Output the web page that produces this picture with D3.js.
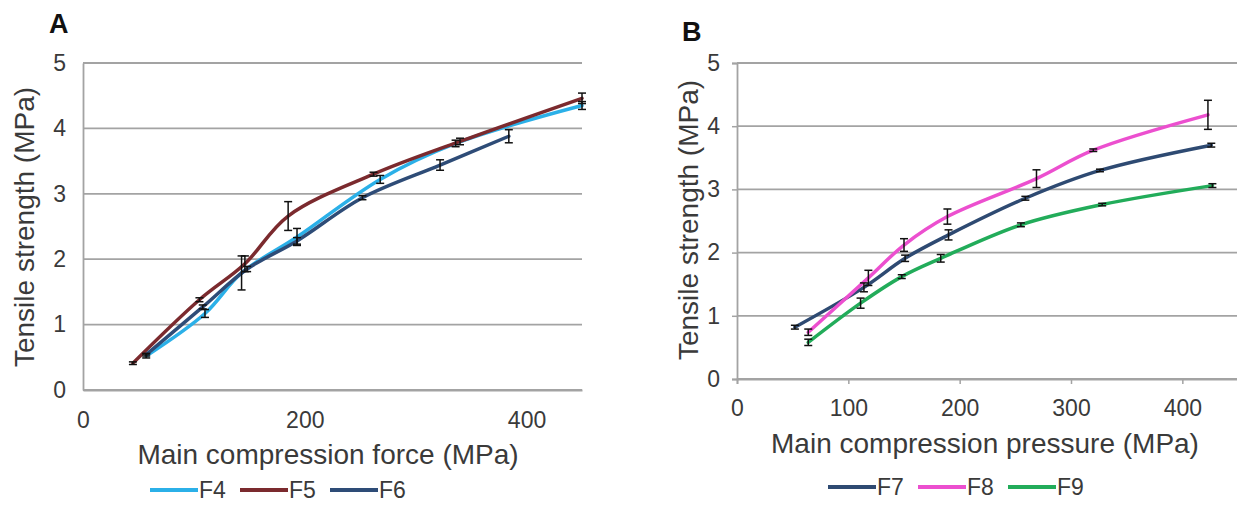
<!DOCTYPE html>
<html>
<head>
<meta charset="utf-8">
<script src="https://cdn.jsdelivr.net/npm/d3@7"></script>
<style>
  html, body { margin: 0; padding: 0; background: #fff; }
  svg { display: block; font-family: "Liberation Sans", Arial, sans-serif; }
</style>
</head>
<body>
<svg id="chart" width="1237" height="522"></svg>
<script>
// ---------- Data ----------
const yTicks = [0, 1, 2, 3, 4, 5];
const xTicksA = [0, 200, 400];
const xTicksB = [0, 100, 200, 300, 400];

// Panel A
const f4X   = [57, 110, 143, 193, 268, 336, 450];
const f4Y   = [0.52, 1.17, 1.79, 2.34, 3.22, 3.77, 4.35];
const f4Err = [0.03, 0.06, 0.26, 0.13, 0.06, 0.05, 0.06];

const f5X   = [45, 105, 146, 185, 262, 340, 450];
const f5Y   = [0.41, 1.38, 1.93, 2.66, 3.3, 3.8, 4.46];
const f5Err = [0.02, 0.03, 0.12, 0.22, 0.03, 0.05, 0.08];

const f6X   = [57, 108, 148, 193, 252, 322, 384];
const f6Y   = [0.54, 1.27, 1.85, 2.28, 2.94, 3.44, 3.88];
const f6Err = [0.02, 0.03, 0.04, 0.05, 0.03, 0.08, 0.1];

// Panel B
const f7X   = [52, 114, 151, 190, 259, 326, 426];
const f7Y   = [0.82, 1.45, 1.91, 2.28, 2.86, 3.3, 3.7];
const f7Err = [0.03, 0.07, 0.05, 0.08, 0.03, 0.02, 0.03];

const f8X   = [64, 118, 150, 189, 269, 320, 423];
const f8Y   = [0.74, 1.6, 2.12, 2.57, 3.17, 3.62, 4.18];
const f8Err = [0.05, 0.12, 0.1, 0.12, 0.14, 0.02, 0.23];

const f9X   = [64, 111, 148, 183, 255, 328, 427];
const f9Y   = [0.58, 1.2, 1.62, 1.91, 2.44, 2.76, 3.06];
const f9Err = [0.05, 0.08, 0.03, 0.06, 0.03, 0.02, 0.03];

const seriesA = [
  { name: "F4", x: f4X, y: f4Y, err: f4Err, color: "#2bb0e8" },
  { name: "F5", x: f5X, y: f5Y, err: f5Err, color: "#7b2a2e" },
  { name: "F6", x: f6X, y: f6Y, err: f6Err, color: "#2e4c77" }
];
const seriesB = [
  { name: "F7", x: f7X, y: f7Y, err: f7Err, color: "#2e4a72" },
  { name: "F8", x: f8X, y: f8Y, err: f8Err, color: "#ec4fcf" },
  { name: "F9", x: f9X, y: f9Y, err: f9Err, color: "#22ac5a" }
];

const svg = d3.select("#chart");
const textColor = "#3a3a3a";
const gridColor = "#a3a3a3";

function panel(cfg) {
  const g = svg.append("g");
  const x = d3.scaleLinear().domain([0, 450]).range([cfg.x0, cfg.x1]);
  const y = d3.scaleLinear().domain([0, 5]).range([cfg.y0, cfg.y1]);

  // gridlines
  g.append("g").selectAll("line").data(yTicks).join("line")
    .attr("x1", cfg.x0).attr("x2", cfg.x1)
    .attr("y1", d => y(d)).attr("y2", d => y(d))
    .attr("stroke", gridColor).attr("stroke-width", 1.8);

  // y axis
  const yAxis = d3.axisLeft(y).tickValues(yTicks).tickFormat(d3.format("d"))
    .tickSize(cfg.ticks ? 5 : 0).tickPadding(cfg.ticks ? 12 : 17);
  const ya = g.append("g").attr("transform", `translate(${cfg.x0},0)`).call(yAxis);
  // x axis
  const xAxis = d3.axisBottom(x).tickValues(cfg.xTicks).tickFormat(d3.format("d"))
    .tickSize(cfg.ticks ? 5 : 0).tickPadding(cfg.ticks ? 16 : 22);
  const xa = g.append("g").attr("transform", `translate(0,${cfg.y0})`).call(xAxis);
  [ya, xa].forEach(a => {
    a.select(".domain").attr("stroke", gridColor).attr("stroke-width", 1.8);
    a.selectAll(".tick line").attr("stroke", gridColor).attr("stroke-width", 1.5);
    a.selectAll(".tick text").attr("fill", textColor).style("font-size", "23px")
      .style("font-family", "Liberation Sans, Arial, sans-serif");
  });

  // lines
  const line = d3.line().curve(d3.curveCatmullRom.alpha(0.5))
    .x(d => x(d[0])).y(d => y(d[1]));
  cfg.series.forEach(s => {
    const pts = s.x.map((v, i) => [v, s.y[i]]);
    g.append("path").attr("d", line(pts)).attr("fill", "none")
      .attr("stroke", s.color).attr("stroke-width", 3.5)
      .attr("stroke-linejoin", "round").attr("stroke-linecap", "round");
  });
  // error bars
  cfg.series.forEach(s => {
    const eg = g.append("g").attr("stroke", "#111").attr("stroke-width", 1.5);
    s.x.forEach((v, i) => {
      const cx = x(v), top = y(s.y[i] + s.err[i]), bot = y(s.y[i] - s.err[i]);
      eg.append("line").attr("x1", cx).attr("x2", cx).attr("y1", top).attr("y2", bot);
      eg.append("line").attr("x1", cx - 4).attr("x2", cx + 4).attr("y1", top).attr("y2", top);
      eg.append("line").attr("x1", cx - 4).attr("x2", cx + 4).attr("y1", bot).attr("y2", bot);
    });
  });

  // panel letter
  g.append("text").attr("x", cfg.letterX).attr("y", cfg.letterY).text(cfg.letter)
    .attr("font-weight", "bold").attr("font-size", 27).attr("fill", "#111");

  // axis titles
  g.append("text").attr("x", cfg.xTitleX).attr("y", cfg.xTitleY).attr("text-anchor", "middle")
    .attr("font-size", 28).attr("fill", textColor).text(cfg.xTitle);
  g.append("text").attr("transform", `translate(${cfg.yTitleX},${cfg.yTitleY}) rotate(-90)`)
    .attr("text-anchor", "middle").attr("font-size", 28).attr("fill", textColor)
    .text("Tensile strength (MPa)");

  // legend
  const lg = g.append("g");
  cfg.series.forEach((s, i) => {
    const lx = cfg.legX + i * cfg.legStep;
    lg.append("line").attr("x1", lx).attr("x2", lx + 48).attr("y1", cfg.legY).attr("y2", cfg.legY)
      .attr("stroke", s.color).attr("stroke-width", 4);
    lg.append("text").attr("x", lx + 49).attr("y", cfg.legY + 8).attr("font-size", 23)
      .attr("fill", textColor).text(s.name);
  });
}

panel({
  x0: 83, x1: 582, y0: 390, y1: 63, xTicks: xTicksA, ticks: false,
  series: seriesA, letter: "A", letterX: 49, letterY: 33,
  xTitle: "Main compression force (MPa)", xTitleX: 328, xTitleY: 464,
  yTitleX: 34, yTitleY: 227, legX: 150, legStep: 90, legY: 490
});
panel({
  x0: 737, x1: 1238, y0: 379, y1: 63, xTicks: xTicksB, ticks: true,
  series: seriesB, letter: "B", letterX: 682, letterY: 41,
  xTitle: "Main compression pressure (MPa)", xTitleX: 985, xTitleY: 453,
  yTitleX: 698, yTitleY: 220, legX: 828, legStep: 90, legY: 487
});
</script>
</body>
</html>
